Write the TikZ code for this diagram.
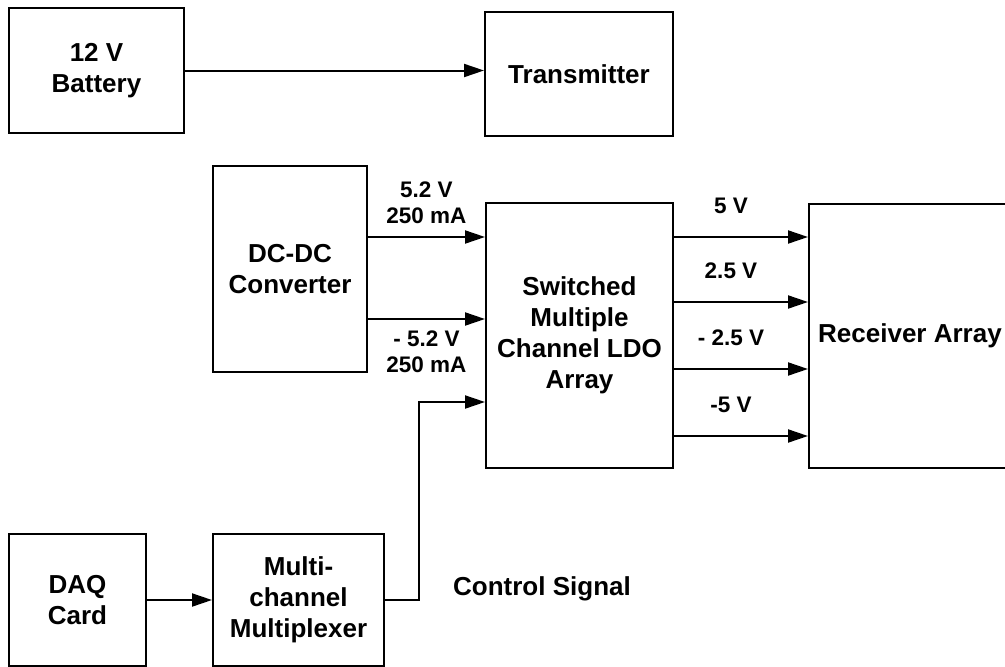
\documentclass[tikz,border=0pt]{standalone}
\usepackage{fontspec}
\setmainfont{Liberation Sans}
\usetikzlibrary{arrows.meta,positioning}

\begin{document}
\begin{tikzpicture}[
  x=1pt, y=-1pt,
  box/.style={rectangle, draw=black, line width=2pt, inner sep=0pt, align=center,
              font=\fontsize{26}{31}\selectfont\bfseries},
  lbl/.style={align=center, inner sep=0pt, font=\fontsize{22.5}{26}\selectfont\bfseries},
  sig/.style={inner sep=0pt, font=\fontsize{26}{31}\selectfont\bfseries},
  arr/.style={-{Triangle[length=20pt,width=13pt]}, line width=2pt}
]
\fill[white] (0,0) rectangle (1005,667);
\useasboundingbox (0,0) rectangle (1005,667);

% power and transmitter
\node[box, minimum width=175pt, minimum height=125pt] (bat) at (96.5,70.5) {12 V\\Battery};
\node[box, minimum width=188pt, minimum height=124pt, right=299pt of bat, yshift=-3.5pt] (tx) {Transmitter};

% supply chain to the receivers
\node[box, minimum width=154pt, minimum height=206pt] (dcdc) at (290,269) {DC-DC\\Converter};
\node[box, minimum width=187pt, minimum height=265pt] (ldo) at (579.5,335.5) {Switched\\Multiple\\Channel LDO\\Array};
\node[box, minimum width=202pt, minimum height=264pt, right=134pt of ldo] (rx) {Receiver Array};

% control side
\node[box, minimum width=137pt, minimum height=132pt] (daq) at (77.5,600) {DAQ\\Card};
\node[box, minimum width=171pt, minimum height=132pt, right=65pt of daq] (mux) {Multi-\\channel\\Multiplexer};
\node[sig, anchor=base] (ctrl) at (542,595) {Control Signal};

\draw[arr] (bat.east) -- (bat.east -| tx.west);

\coordinate (dcp) at ([yshift=32pt]dcdc.east);
\coordinate (dcn) at ([yshift=-50pt]dcdc.east);
\draw[arr] (dcp) -- (dcp -| ldo.west) node[lbl, midway, yshift=34pt] {5.2 V\\250 mA};
\draw[arr] (dcn) -- (dcn -| ldo.west) node[lbl, midway, yshift=-32.5pt] {- 5.2 V\\250 mA};

\foreach \dy/\volt in {98.5/5 V, 33.5/2.5 V, -33.5/- 2.5 V, -100.5/-5 V}{
  \coordinate (out) at ([yshift=\dy pt]ldo.east);
  \draw[arr] (out) -- (out -| rx.west) node[lbl, midway, xshift=-10pt, yshift=31pt] {\volt};
}

\draw[arr] (daq) -- (mux);
\coordinate (ctlin) at ([yshift=-66.5pt]ldo.west);
\draw[arr] (mux.east) -- ++(34pt,0) |- (ctlin);
\end{tikzpicture}
\end{document}
